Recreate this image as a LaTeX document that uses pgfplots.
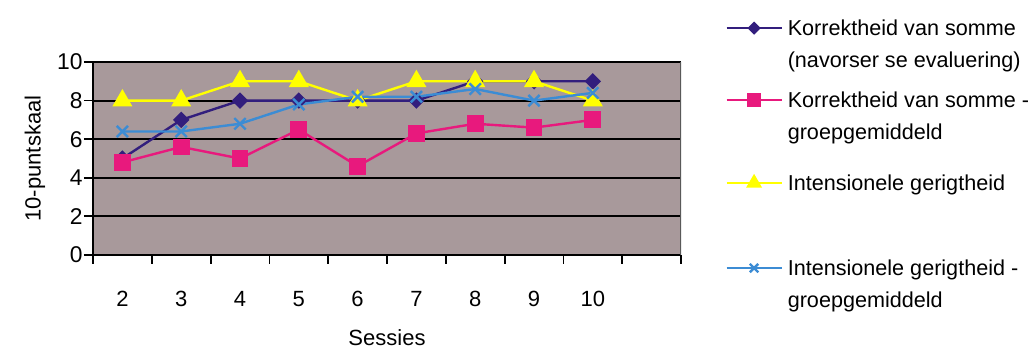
\documentclass[border=0pt]{standalone}
\usepackage{fontspec}
\setmainfont{Liberation Sans}
\usepackage{pgfplots}
\pgfplotsset{compat=1.18}

\definecolor{plotbg}{RGB}{168,153,155}
\definecolor{korrnavy}{RGB}{50,30,125}
\definecolor{korrpink}{RGB}{232,25,125}
\definecolor{intyellow}{RGB}{255,255,0}
\definecolor{intblue}{RGB}{60,140,212}

\newcommand{\lgfont}{\fontsize{10.8bp}{16bp}\selectfont}
% legend text: lines stacked with the first baseline as reference
\newcommand{\lgtext}[1]{\vtop{\lgfont #1}}

\begin{document}
\begin{tikzpicture}
\begin{axis}[
  scale only axis,
  width=294bp, height=96.5bp,
  xmin=-0.5, xmax=9.5, ymin=0, ymax=10,
  axis x line*=bottom, axis y line*=left,
  axis line style={black, line width=1bp},
  axis background/.style={fill=plotbg},
  tick align=outside,
  major tick length=4.5bp,
  tick style={black, line width=0.9bp},
  xtick={-0.5,0.5,...,9.5},
  xticklabels={2,3,4,5,6,7,8,9,10,{},{}},
  xticklabel style={xshift=14.7bp, yshift=-10bp, font=\fontsize{11bp}{13bp}\selectfont},
  ytick={0,2,...,10},
  yticklabel style={inner sep=0.5bp, font=\fontsize{11.4bp}{13bp}\selectfont},
  /pgf/number format/assume math mode=true,
  ymajorgrids,
  major grid style={black, line width=1bp},
  xlabel={Sessies},
  xlabel style={at={(axis description cs:0.5,0)}, anchor=center, yshift=-41.5bp, font=\fontsize{11bp}{13bp}\selectfont},
  ylabel={10-puntskaal},
  ylabel style={at={(axis description cs:-0.0986,0.5)}, anchor=center, font=\fontsize{11bp}{13bp}\selectfont},
  every axis plot/.append style={line width=1.2bp},
  legend image code/.code={%
    \draw[mark repeat=2, mark phase=2]
      plot coordinates {(0bp,3.9bp) (13.75bp,3.9bp) (27.5bp,3.9bp)};%
  },
  legend image post style={every mark/.append style={scale=0.75}},
  legend style={
    at={(rel axis cs:1.0748,1.2254)}, anchor=north west,
    draw=none, fill=none, inner sep=0pt,
    row sep=0pt, column sep=2.5bp,
    nodes={inner sep=0pt, text height=8.5bp},
    cells={anchor=base west},
  },
]
% Korrektheid van somme (navorser se evaluering)
\addplot[color=korrnavy, mark=square*, mark size=2.3bp,
  mark options={rotate=45, fill=korrnavy}]
  coordinates {(0,5) (1,7) (2,8) (3,8) (4,8) (5,8) (6,9) (7,9) (8,9)};
\addlegendentry[text depth=27.5bp]{\lgtext{\hbox{Korrektheid van somme}\hbox{(navorser se evaluering)}}}

% Korrektheid van somme - groepgemiddeld
\addplot[color=korrpink, mark=square*, mark size=3.6bp,
  mark options={fill=korrpink}]
  coordinates {(0,4.8) (1,5.6) (2,5.0) (3,6.5) (4,4.6) (5,6.3) (6,6.8) (7,6.6) (8,7.0)};
\addlegendentry[text depth=33bp]{\lgtext{\hbox{Korrektheid van somme -}\hbox{groepgemiddeld}}}

% Intensionele gerigtheid
\addplot[color=intyellow, mark=triangle*, mark size=4.6bp,
  mark options={fill=intyellow}]
  coordinates {(0,8) (1,8) (2,9) (3,9) (4,8) (5,9) (6,9) (7,9) (8,8)};
\addlegendentry[text depth=34bp]{\lgtext{\hbox{Intensionele gerigtheid}}}

% Intensionele gerigtheid - groepgemiddeld
\addplot[color=intblue, mark=x, mark size=4bp]
  coordinates {(0,6.4) (1,6.4) (2,6.8) (3,7.8) (4,8.2) (5,8.2) (6,8.6) (7,8.0) (8,8.4)};
\addlegendentry[text depth=19bp]{\lgtext{\hbox{Intensionele gerigtheid -}\hbox{groepgemiddeld}}}

% right edge of the plot area
\draw[black!65, line width=0.7bp] (rel axis cs:1,0) -- (rel axis cs:1,1);
\end{axis}
\pgfresetboundingbox
\path (-46.5bp,-47bp) rectangle (469bp,127.5bp);
\end{tikzpicture}
\end{document}
